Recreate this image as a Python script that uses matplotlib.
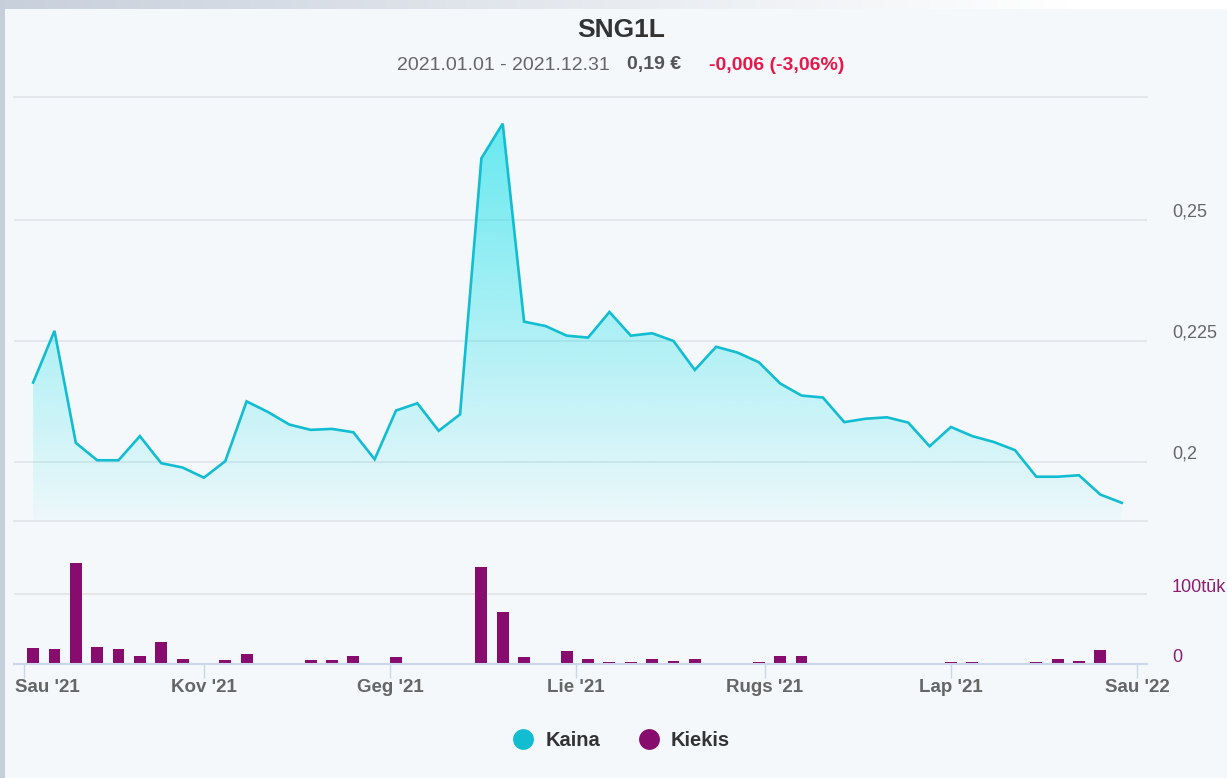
import numpy as np
import pandas as pd
import matplotlib
matplotlib.use("Agg")
import matplotlib.pyplot as plt
import matplotlib.dates as mdates
from matplotlib.transforms import ScaledTranslation
from matplotlib.patches import PathPatch, Rectangle
from matplotlib.lines import Line2D

plt.rcParams['font.family'] = ['Liberation Sans', 'DejaVu Sans']

# ---------------- data ----------------
dates = pd.date_range('2021-01-04', periods=52, freq='7D')
price = [0.2164, 0.2271, 0.2039, 0.2003, 0.2003, 0.2053, 0.1997, 0.1988, 0.1967, 0.2001,
         0.2125, 0.2103, 0.2077, 0.2066, 0.2068, 0.2061, 0.2005, 0.2106, 0.2121, 0.2064,
         0.2098, 0.2628, 0.2700, 0.2290, 0.2281, 0.2261, 0.2257, 0.2310, 0.2261, 0.2266,
         0.2250, 0.2190, 0.2238, 0.2226, 0.2206, 0.2162, 0.2137, 0.2133, 0.2082, 0.2089,
         0.2092, 0.2081, 0.2032, 0.2072, 0.2053, 0.2041, 0.2024, 0.1969, 0.1969, 0.1972,
         0.1932, 0.1915]
volume = [22400, 21000, 145000, 24800, 21000, 11400, 31400, 7100, 0, 5200,
          13800, 0, 0, 5200, 5200, 11400, 0, 9500, 0, 0,
          0, 138600, 74300, 9500, 0, 18100, 7100, 2900, 2400, 6700,
          4800, 7100, 0, 0, 2400, 11400, 11400, 0, 0, 0,
          0, 0, 0, 2400, 2400, 0, 0, 2400, 7100, 4800,
          20500, 0]
tick_dates = ['2021-01-01', '2021-03-01', '2021-05-01', '2021-07-01',
              '2021-09-01', '2021-11-01', '2022-01-01']
tick_labels = ["Sau '21", "Kov '21", "Geg '21", "Lie '21", "Rugs '21", "Lap '21", "Sau '22"]
price_ticks = [0.2, 0.225, 0.25]
price_tick_labels = ['0,2', '0,225', '0,25']
vol_ticks = [0, 100000]
vol_tick_labels = ['0', '100tūk']
title = 'SNG1L'
sub_period = '2021.01.01 - 2021.12.31'
sub_price = '0,19 €'
sub_change = '-0,006 (-3,06%)'
legend_labels = ['Kaina', 'Kiekis']

# ---------------- style ----------------
W, H = 1227, 778
BG = '#f4f8fb'
CYAN = '#12bdd2'
PURPLE = '#870c6e'
GRID = '#e2e6eb'


def fx(px):
    return px / W


def fy(py):
    return 1 - py / H


fig = plt.figure(figsize=(W / 100, H / 100), dpi=100, facecolor=BG)

# outer frame bands
band = fig.add_axes([0, fy(9), 1, 9 / H])
g = np.linspace(0, 1, 512)
rgb0 = np.array([200, 208, 220]) / 255
rgb1 = np.array([1.0, 1.0, 1.0])
img = np.clip(rgb0[None, :] + (rgb1 - rgb0)[None, :] * np.clip(g[:, None] * 1.15, 0, 1), 0, 1)
band.imshow(img[None, :, :], aspect='auto', extent=[0, 1, 0, 1])
band.set_axis_off()
fig.patches.append(Rectangle((0, 0), 5 / W, 1, transform=fig.transFigure,
                             facecolor='#c6ced9', edgecolor='none', zorder=0))

xnum = mdates.date2num(dates)
x0 = mdates.date2num(pd.Timestamp('2021-01-01')) - 3.28
x1 = mdates.date2num(pd.Timestamp('2021-01-01')) + 368.3
ybot, ytop = 0.18773, 0.27551

# ---------------- price pane ----------------
ax_p = fig.add_axes([fx(14), fy(521), (1147 - 14) / W, (521 - 97) / H])
ax_p.set_facecolor('none')
coll = ax_p.fill_between(xnum, price, ybot, facecolor='none', edgecolor='none')
path = coll.get_paths()[0]
clip = PathPatch(path, transform=ax_p.transData, facecolor='none', edgecolor='none')
ax_p.add_patch(clip)
grad = np.zeros((256, 1, 4))
grad[:, :, 0] = 0 / 255
grad[:, :, 1] = 222 / 255
grad[:, :, 2] = 232 / 255
grad[:, 0, 3] = np.linspace(0.58, 0.03, 256)
im = ax_p.imshow(grad, extent=[x0, x1, ybot, max(price)], aspect='auto',
                 origin='upper', interpolation='bilinear', zorder=1)
im.set_clip_path(clip)
ax_p.plot(xnum, price, color=CYAN, lw=1.9, zorder=3, solid_joinstyle='miter')
ax_p.set_xlim(x0, x1)
ax_p.set_ylim(ybot, ytop)
ax_p.set_xticks([])
ax_p.yaxis.tick_right()
ax_p.set_yticks(price_ticks)
ax_p.set_yticklabels(price_tick_labels)
ax_p.tick_params(axis='y', length=0, pad=18, labelsize=13, labelcolor='#666666')
ax_p.grid(axis='y', color=GRID, lw=1.3)
ax_p.set_axisbelow(True)
for s in ['left', 'right']:
    ax_p.spines[s].set_visible(False)
for s in ['top', 'bottom']:
    ax_p.spines[s].set_color(GRID)
    ax_p.spines[s].set_linewidth(1.3)
up = ScaledTranslation(0, 0.10, fig.dpi_scale_trans)
for lbl in ax_p.get_yticklabels():
    lbl.set_transform(lbl.get_transform() + up)

# ---------------- volume pane ----------------
ax_v = fig.add_axes([fx(14), fy(664), (1147 - 14) / W, (664 - 552) / H])
ax_v.set_facecolor('none')
ax_v.bar(xnum, volume, width=3.9, color=PURPLE, zorder=2)
ax_v.set_xlim(x0, x1)
ax_v.set_ylim(0, 160000)
ax_v.yaxis.tick_right()
ax_v.set_yticks(vol_ticks)
ax_v.set_yticklabels(vol_tick_labels)
ax_v.tick_params(axis='y', length=0, pad=18, labelsize=13, labelcolor='#8a1f74')
ax_v.grid(axis='y', color='#e4e4e4', lw=1.3)
ax_v.set_axisbelow(True)
for s in ['left', 'right', 'top']:
    ax_v.spines[s].set_visible(False)
ax_v.spines['bottom'].set_color('#ccd6eb')
ax_v.spines['bottom'].set_linewidth(1.5)
ax_v.spines['bottom'].set_zorder(3)
up9 = ScaledTranslation(0, 0.09, fig.dpi_scale_trans)
for lbl in ax_v.get_yticklabels():
    lbl.set_transform(lbl.get_transform() + up9)

ax_v.set_xticks(mdates.date2num(pd.to_datetime(tick_dates)))
ax_v.set_xticklabels(tick_labels)
ax_v.tick_params(axis='x', length=10, width=1, color='#ccd6eb', direction='out',
                 labelsize=13.5, labelcolor='#666666', pad=1)
for lbl in ax_v.get_xticklabels():
    lbl.set_fontweight('bold')
first = ax_v.get_xticklabels()[0]
first.set_transform(first.get_transform() + ScaledTranslation(0.235, 0, fig.dpi_scale_trans))

# ---------------- titles ----------------
fig.text(fx(621), fy(30), title, ha='center', va='center', fontsize=19,
         fontweight='bold', color='#333333')
fig.text(fx(397), fy(65), sub_period, ha='left', va='center', fontsize=14, color='#666666')
fig.text(fx(627), fy(65), sub_price, ha='left', va='center', fontsize=14,
         fontweight='bold', color='#555555')
fig.text(fx(709), fy(65), sub_change, ha='left', va='center', fontsize=14,
         fontweight='bold', color='#e8174a')

# ---------------- legend ----------------
handles = [Line2D([], [], marker='o', ls='', markersize=15, color=CYAN, markeredgewidth=0),
           Line2D([], [], marker='o', ls='', markersize=15, color=PURPLE, markeredgewidth=0)]
leg = fig.legend(handles, legend_labels, loc='center', bbox_to_anchor=(fx(621.5), fy(741)),
                 ncol=2, frameon=False, handlelength=1.0, handletextpad=0.6,
                 columnspacing=1.9, prop={'weight': 'bold', 'size': 14.5})
for t in leg.get_texts():
    t.set_color('#333333')

fig.savefig('out.png', dpi=100, facecolor=BG)
